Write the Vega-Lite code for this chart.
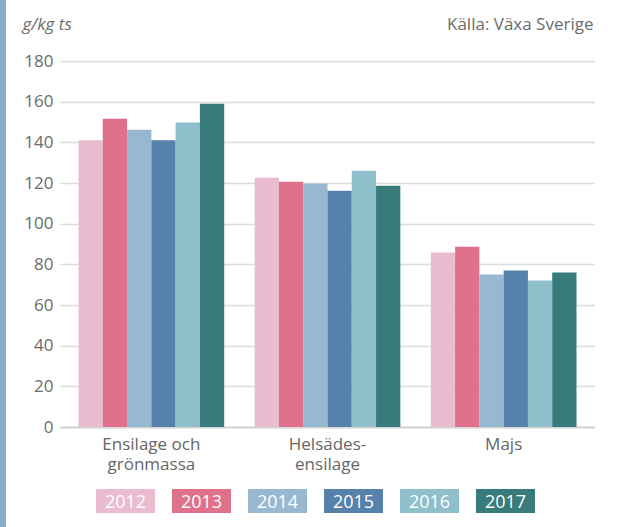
{
  "$schema": "https://vega.github.io/schema/vega-lite/v6.json",
  "padding": 0,
  "background": "white",
  "config": {"font": "Open Sans", "view": {"stroke": null}},
  "datasets": {
    "bars": [
      {"crop": "Ensilage och grönmassa", "year": "2012", "value": 141},
      {"crop": "Ensilage och grönmassa", "year": "2013", "value": 151.6},
      {"crop": "Ensilage och grönmassa", "year": "2014", "value": 146.2},
      {"crop": "Ensilage och grönmassa", "year": "2015", "value": 141},
      {"crop": "Ensilage och grönmassa", "year": "2016", "value": 149.7},
      {"crop": "Ensilage och grönmassa", "year": "2017", "value": 159},
      {"crop": "Helsädesensilage", "year": "2012", "value": 122.6},
      {"crop": "Helsädesensilage", "year": "2013", "value": 120.6},
      {"crop": "Helsädesensilage", "year": "2014", "value": 119.7},
      {"crop": "Helsädesensilage", "year": "2015", "value": 116.2},
      {"crop": "Helsädesensilage", "year": "2016", "value": 126},
      {"crop": "Helsädesensilage", "year": "2017", "value": 118.7},
      {"crop": "Majs", "year": "2012", "value": 85.8},
      {"crop": "Majs", "year": "2013", "value": 88.7},
      {"crop": "Majs", "year": "2014", "value": 75},
      {"crop": "Majs", "year": "2015", "value": 77},
      {"crop": "Majs", "year": "2016", "value": 72},
      {"crop": "Majs", "year": "2017", "value": 76}
    ],
    "years": [
      {"year": "2012"}, {"year": "2013"}, {"year": "2014"},
      {"year": "2015"}, {"year": "2016"}, {"year": "2017"}
    ]
  },
  "bounds": "full",
  "spacing": 16,
  "hconcat": [
    {
      "width": 6,
      "height": 527,
      "view": {"fill": "#89abcc", "stroke": null},
      "data": {"values": [{}]},
      "mark": {"type": "point", "opacity": 0},
      "encoding": {}
    },
    {
      "bounds": "flush",
      "spacing": 62,
      "vconcat": [
        {
          "width": 535,
          "height": 427,
          "data": {"name": "bars"},
          "mark": {"type": "bar"},
          "encoding": {
            "x": {
              "field": "crop",
              "type": "nominal",
              "sort": ["Ensilage och grönmassa", "Helsädesensilage", "Majs"],
              "scale": {"paddingInner": 0.173, "paddingOuter": 0.105},
              "axis": {
                "title": "Källa: Växa Sverige",
                "titleX": 533,
                "titleY": -398,
                "titleAlign": "right",
                "titleAnchor": null,
                "titleBaseline": "alphabetic",
                "titleAngle": 0,
                "titleFontSize": 17,
                "titleFontWeight": "normal",
                "titleColor": "#6b6b6b",
                "labelAngle": 0,
                "labelFontSize": 17,
                "labelColor": "#666666",
                "labelLineHeight": 20,
                "labelPadding": 9,
                "labelBaseline": "top",
                "labelExpr": "datum.label == 'Ensilage och grönmassa' ? ['Ensilage och', 'grönmassa'] : datum.label == 'Helsädesensilage' ? ['Helsädes-', 'ensilage'] : datum.label",
                "ticks": false,
                "domainColor": "#d6d6d6",
                "domainWidth": 2
              }
            },
            "xOffset": {
              "field": "year",
              "type": "nominal",
              "scale": {"paddingInner": 0, "paddingOuter": 0}
            },
            "y": {
              "field": "value",
              "type": "quantitative",
              "scale": {"domain": [0, 210], "nice": false},
              "axis": {
                "title": "g/kg ts",
                "titleAngle": 0,
                "titleX": -38,
                "titleY": 29,
                "titleAlign": "left",
                "titleAnchor": null,
                "titleBaseline": "alphabetic",
                "titleFontStyle": "italic",
                "titleFontWeight": "normal",
                "titleFontSize": 17,
                "titleColor": "#6b6b6b",
                "values": [0, 20, 40, 60, 80, 100, 120, 140, 160, 180],
                "labelFontSize": 17,
                "labelColor": "#6b6b6b",
                "labelPadding": 7,
                "ticks": false,
                "domain": false,
                "grid": true,
                "gridColor": "#dcdcdc",
                "gridWidth": 1.5
              }
            },
            "color": {
              "field": "year",
              "type": "nominal",
              "scale": {
                "domain": ["2012", "2013", "2014", "2015", "2016", "2017"],
                "range": ["#ebbbcf", "#e0718a", "#98b7d1", "#5581ab", "#8fbfca", "#377b7a"]
              },
              "legend": null
            }
          }
        },
        {
          "width": 535,
          "height": 24,
          "data": {"name": "years"},
          "layer": [
            {
              "mark": {"type": "rect"},
              "encoding": {
                "x": {
                  "field": "year",
                  "type": "nominal",
                  "scale": {"paddingInner": 0.2237, "paddingOuter": 0.632, "align": 0.375},
                  "axis": null
                },
                "color": {
                  "field": "year",
                  "type": "nominal",
                  "scale": {
                    "domain": ["2012", "2013", "2014", "2015", "2016", "2017"],
                    "range": ["#ebbbcf", "#e0718a", "#98b7d1", "#5581ab", "#8fbfca", "#377b7a"]
                  },
                  "legend": null
                }
              }
            },
            {
              "mark": {"type": "text", "color": "white", "fontSize": 18, "baseline": "middle", "dy": 2},
              "encoding": {
                "x": {"field": "year", "type": "nominal", "axis": null},
                "text": {"field": "year"}
              }
            }
          ]
        }
      ]
    }
  ]
}
